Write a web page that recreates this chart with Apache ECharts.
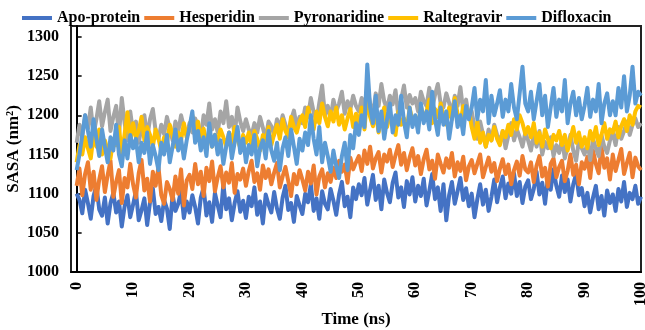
<!DOCTYPE html>
<html>
<head>
<meta charset="utf-8">
<title>SASA</title>
<script src="https://cdn.jsdelivr.net/npm/echarts@6/dist/echarts.min.js"></script>
<style>
  html, body { margin: 0; padding: 0; background: #fff; }
  #sasaChart { width: 645px; height: 330px; }
</style>
</head>
<body>
<div id="sasaChart"></div>
<script>
// values, one every 0.5 ns
var seriesNames = ["Apo-protein", "Hesperidin", "Pyronaridine", "Raltegravir", "Difloxacin"];
var seriesColors = ["#4472C4", "#ED7D31", "#A5A5A5", "#FFC000", "#5B9BD5"];
var xTicks = [0, 10, 20, 30, 40, 50, 60, 70, 80, 90, 100];
var yTicks = [1000, 1050, 1100, 1150, 1200, 1250, 1300];

var apoProtein = [
  1100,1092,1075,1105,1088,1068,1097,1110,1080,1072,
  1095,1062,1088,1101,1076,1090,1058,1084,1098,1070,
  1086,1103,1066,1079,1094,1060,1089,1107,1074,1083,
  1065,1092,1081,1055,1099,1078,1087,1104,1069,1090,
  1076,1098,1083,1062,1095,1108,1072,1089,1064,1101,
  1085,1070,1112,1080,1094,1066,1088,1103,1077,1091,
  1069,1096,1084,1108,1073,1090,1062,1099,1086,1076,
  1102,1081,1068,1095,1110,1079,1088,1064,1097,1085,
  1074,1100,1089,1112,1078,1094,1068,1103,1087,1080,
  1106,1091,1073,1099,1115,1084,1096,1070,1108,1093,
  1112,1098,1120,1086,1105,1124,1092,1110,1080,1118,
  1101,1089,1114,1127,1095,1108,1083,1116,1099,1121,
  1090,1110,1097,1119,1085,1104,1125,1093,1108,1078,
  1112,1066,1098,1115,1087,1103,1120,1092,1107,1084,
  1100,1070,1093,1112,1086,1105,1078,1096,1118,1089,
  1108,1122,1094,1113,1100,1126,1097,1115,1088,1109,
  1117,1093,1106,1128,1099,1114,1087,1120,1105,1131,
  1110,1096,1123,1102,1118,1090,1112,1125,1098,1107,
  1084,1101,1076,1095,1110,1080,1097,1072,1104,1088,
  1099,1078,1106,1090,1115,1083,1101,1093,1110,1087,
  1096
];
var hesperidin = [
  1110,1132,1098,1125,1140,1105,1128,1092,1118,1135,
  1102,1124,1142,1096,1115,1130,1088,1120,1108,1138,
  1112,1095,1126,1143,1104,1119,1090,1128,1110,1134,
  1098,1087,1115,1106,1092,1122,1100,1131,1085,1117,
  1124,1106,1138,1112,1128,1097,1133,1116,1141,1103,
  1121,1135,1108,1127,1114,1139,1101,1125,1118,1132,
  1110,1129,1142,1115,1126,1105,1136,1120,1131,1112,
  1127,1139,1108,1122,1134,1116,1097,1125,1112,1130,
  1118,1104,1128,1113,1136,1099,1122,1131,1108,1126,
  1115,1133,1120,1142,1128,1137,1114,1146,1131,1140,
  1148,1129,1155,1138,1160,1132,1145,1153,1127,1150,
  1141,1156,1134,1149,1162,1137,1152,1130,1146,1158,
  1136,1148,1125,1144,1156,1131,1142,1119,1150,1138,
  1127,1145,1133,1152,1122,1140,1129,1147,1117,1135,
  1143,1126,1138,1150,1121,1134,1146,1128,1139,1116,
  1132,1144,1125,1137,1112,1130,1141,1123,1148,1131,
  1127,1140,1115,1136,1148,1122,1133,1109,1138,1145,
  1121,1134,1142,1116,1129,1150,1124,1137,1112,1140,
  1132,1147,1120,1155,1138,1126,1160,1133,1145,1118,
  1150,1129,1143,1157,1125,1139,1152,1121,1146,1135,
  1130
];
var pyronaridine = [
  1165,1188,1172,1200,1183,1210,1176,1195,1218,1186,
  1204,1220,1180,1198,1212,1175,1222,1190,1168,1205,
  1178,1192,1165,1185,1200,1172,1195,1208,1180,1170,
  1188,1176,1198,1183,1168,1192,1179,1200,1185,1174,
  1190,1178,1196,1184,1172,1200,1188,1215,1182,1195,
  1178,1205,1190,1218,1185,1198,1175,1210,1192,1180,
  1195,1182,1174,1190,1178,1198,1184,1170,1192,1186,
  1175,1195,1183,1200,1188,1176,1194,1206,1185,1198,
  1190,1210,1198,1222,1204,1192,1216,1238,1200,1212,
  1196,1220,1205,1215,1230,1202,1218,1208,1225,1212,
  1205,1222,1210,1236,1215,1200,1228,1212,1240,1218,
  1208,1225,1214,1232,1200,1220,1238,1210,1226,1215,
  1222,1205,1230,1218,1212,1235,1208,1226,1240,1215,
  1210,1228,1216,1202,1225,1212,1236,1205,1220,1198,
  1205,1185,1170,1192,1176,1160,1182,1168,1188,1175,
  1165,1180,1158,1174,1190,1168,1182,1172,1160,1178,
  1168,1155,1175,1160,1180,1150,1166,1158,1172,1148,
  1162,1152,1170,1145,1160,1175,1155,1142,1168,1158,
  1150,1165,1143,1170,1158,1148,1175,1160,1152,1168,
  1178,1162,1185,1170,1180,1192,1175,1188,1196,1185,
  1190
];
var raltegravir = [
  1140,1162,1150,1172,1158,1145,1175,1160,1182,1150,
  1168,1155,1145,1170,1162,1185,1150,1176,1204,1165,
  1190,1172,1180,1198,1168,1185,1175,1160,1182,1170,
  1155,1172,1165,1188,1175,1160,1178,1168,1190,1172,
  1185,1200,1176,1192,1170,1183,1165,1178,1160,1175,
  1168,1182,1172,1160,1178,1165,1185,1170,1158,1175,
  1165,1178,1160,1180,1170,1155,1175,1168,1185,1162,
  1176,1188,1170,1195,1180,1172,1198,1185,1178,1192,
  1200,1185,1210,1195,1182,1205,1190,1215,1198,1186,
  1205,1192,1210,1188,1200,1182,1196,1208,1185,1202,
  1190,1210,1182,1225,1198,1186,1205,1178,1195,1210,
  1185,1200,1192,1175,1205,1188,1196,1180,1210,1192,
  1198,1185,1212,1195,1205,1220,1190,1208,1198,1215,
  1200,1188,1210,1195,1222,1202,1190,1212,1198,1206,
  1185,1170,1192,1165,1178,1160,1175,1168,1185,1170,
  1162,1180,1172,1188,1175,1195,1182,1200,1190,1176,
  1185,1172,1190,1165,1178,1160,1182,1170,1158,1175,
  1168,1180,1162,1175,1155,1170,1185,1165,1178,1160,
  1172,1158,1180,1168,1185,1162,1175,1190,1170,1182,
  1178,1192,1172,1186,1195,1180,1200,1188,1205,1212,
  1210
];
var difloxacin = [
  1130,1150,1175,1200,1180,1160,1195,1170,1148,1182,
  1160,1140,1172,1155,1188,1150,1135,1168,1145,1175,
  1158,1170,1140,1165,1152,1178,1138,1162,1148,1130,
  1165,1150,1175,1140,1160,1182,1155,1170,1145,1168,
  1185,1205,1165,1180,1155,1172,1148,1190,1160,1175,
  1150,1168,1138,1160,1178,1145,1165,1185,1152,1170,
  1140,1162,1150,1175,1135,1158,1168,1145,1180,1155,
  1142,1165,1130,1158,1172,1148,1182,1160,1138,1170,
  1155,1178,1162,1200,1170,1150,1185,1140,1165,1148,
  1128,1155,1135,1120,1148,1165,1130,1175,1158,1190,
  1175,1200,1185,1265,1210,1190,1225,1180,1205,1170,
  1195,1215,1178,1200,1188,1225,1192,1172,1210,1185,
  1200,1178,1215,1190,1205,1182,1230,1195,1175,1210,
  1188,1205,1170,1195,1218,1185,1200,1176,1212,1195,
  1210,1235,1195,1220,1205,1245,1190,1225,1200,1215,
  1232,1198,1220,1205,1240,1210,1195,1228,1262,1215,
  1205,1230,1195,1218,1240,1200,1225,1185,1210,1235,
  1198,1220,1205,1245,1190,1215,1230,1200,1222,1195,
  1212,1235,1198,1220,1205,1240,1190,1215,1228,1200,
  1218,1200,1235,1210,1250,1205,1225,1262,1215,1230,
  1225
];

var allValues = [apoProtein, hesperidin, pyronaridine, raltegravir, difloxacin];

var fontBold = {
  fontFamily: "Liberation Serif",
  fontWeight: "bold",
  color: "#000"
};

var myChart = echarts.init(document.getElementById("sasaChart"));

var seriesArr = [];
for (var i = 0; i < allValues.length; i++) {
  var pts = [];
  for (var j = 0; j < allValues[i].length; j++) {
    pts.push([j * 0.5, allValues[i][j]]);
  }
  seriesArr.push({
    name: seriesNames[i],
    type: "line",
    showSymbol: false,
    symbol: "none",
    data: pts,
    lineStyle: { width: 4, color: seriesColors[i], join: "round" },
    itemStyle: { color: seriesColors[i] },
    z: 2 + i
  });
}

var option = {
  animation: false,
  color: seriesColors,
  legend: {
    top: 5,
    left: 17,
    icon: "rect",
    itemWidth: 30,
    itemHeight: 4,
    itemGap: 4,
    textStyle: Object.assign({ fontSize: 16 }, fontBold),
    data: seriesNames
  },
  grid: {
    left: 71,
    right: 4,
    top: 26,
    bottom: 58,
    containLabel: false,
    outerBoundsMode: "none",
    show: true,
    borderColor: "#222",
    borderWidth: 2
  },
  xAxis: {
    type: "value",
    min: -1,
    max: 100,
    name: "Time (ns)",
    nameLocation: "middle",
    nameGap: 39,
    nameMoveOverlap: false,
    nameTextStyle: Object.assign({ fontSize: 17 }, fontBold),
    axisLine: { show: true, lineStyle: { color: "#000", width: 2 } },
    axisTick: { show: false },
    splitLine: { show: false },
    axisLabel: Object.assign({
      fontSize: 16,
      rotate: 90,
      margin: 10,
      customValues: xTicks
    }, fontBold)
  },
  yAxis: {
    type: "value",
    min: 1000,
    max: 1314,
    name: "SASA (nm²)",
    nameLocation: "middle",
    nameGap: 49,
    nameMoveOverlap: false,
    nameTextStyle: Object.assign({ fontSize: 17 }, fontBold),
    axisLine: { show: true, lineStyle: { color: "#000", width: 2 } },
    axisTick: {
      show: true,
      inside: true,
      length: 5,
      customValues: yTicks,
      lineStyle: { color: "#000", width: 1.5 }
    },
    splitLine: { show: false },
    axisLabel: Object.assign({
      fontSize: 16,
      margin: 12,
      customValues: yTicks,
      formatter: function (v) { return String(v); }
    }, fontBold)
  },
  series: seriesArr
};

myChart.setOption(option, true);
window.addEventListener("resize", function () {
  myChart.resize();
});
</script>
</body>
</html>
